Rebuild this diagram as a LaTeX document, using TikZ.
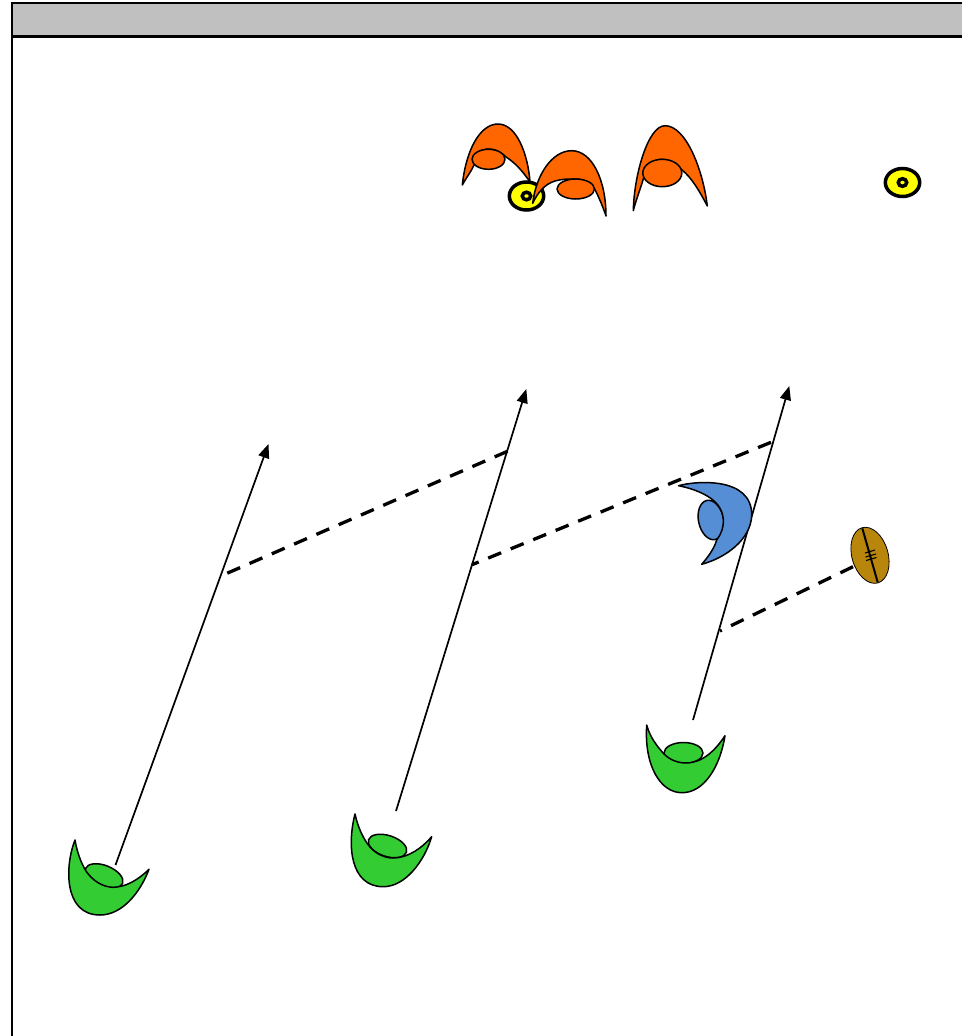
\documentclass[tikz,border=0pt]{standalone}
\usetikzlibrary{arrows.meta}
\definecolor{hdr}{HTML}{C0C0C0}
\definecolor{grn}{HTML}{33CC33}
\definecolor{org}{HTML}{FF6600}
\definecolor{blu}{HTML}{558ED5}
\definecolor{yel}{HTML}{FFFF00}
\definecolor{ballc}{HTML}{B8860B}
\tikzset{
  frameline/.style={line width=2.4pt,black},
  shapeline/.style={line width=1.5pt,black,line join=round},
  run/.style={line width=1.7pt,black,-{Triangle[length=14pt,width=11pt]}},
  pass/.style={line width=3.3pt,black,dash pattern=on 14pt off 10.3pt},
  eye/.style={line width=3.5pt,black,fill=yel},
  ballseam/.style={line width=1.1pt,black}
}
\begin{document}
\begin{tikzpicture}[x=1pt,y=-1pt]
\useasboundingbox (0,0) rectangle (962,1036);
\fill[white] (0,0) rectangle (962,1036);
% frame
\fill[hdr] (12,3) rectangle (962,36.5);
\draw[frameline] (962,3) -- (12,3) -- (12,1036);
\draw[frameline] (12,36.5) -- (962,36.5);
% coordinates
\coordinate (r1s) at (115.5,865); \coordinate (r1e) at (268.5,444);
\coordinate (r2s) at (396,811);   \coordinate (r2e) at (526.3,389);
\coordinate (r3s) at (693,720);   \coordinate (r3e) at (789.3,386);
\coordinate (p1s) at (507.5,451.3); \coordinate (p1e) at (226.5,573.5);
\coordinate (p2s) at (771,442.3);   \coordinate (p2e) at (472,564.7);
\coordinate (p3s) at (853,566.7); \coordinate (p3e) at (720,631);
% yellow markers
\draw[eye] (526.5,196) ellipse (17.2pt and 14pt);
\draw[eye] (526.5,196) ellipse (4.2pt and 3.8pt);
\draw[eye] (902.5,182.5) ellipse (17.2pt and 14pt);
\draw[eye] (902.5,182.5) ellipse (4.2pt and 3.8pt);
% orange
\draw[shapeline,fill=org] (462.3,185) .. controls (466,150) and (480,124) .. (498,124)
  .. controls (517,124) and (528,155) .. (530,182)
  .. controls (522,170) and (514,162) .. (506,157)
  .. controls (500,151) and (494,149) .. (488,149)
  .. controls (480,149) and (475,158) .. (474,165)
  .. controls (471,172) and (466,178) .. (462.3,185) -- cycle;
\draw[shapeline,fill=org] (488.5,159.3) ellipse (16.5pt and 10pt);
\draw[shapeline,fill=org] (532.7,203.3) .. controls (536,175) and (552,150.7) .. (571.7,150.7)
  .. controls (592,150.7) and (606,180) .. (606,216)
  .. controls (603,207) and (598,195) .. (594,188)
  .. controls (590,183) and (584,179) .. (574,179)
  .. controls (568,179) and (562,179) .. (555,181)
  .. controls (545,184) and (538,192) .. (532.7,203.3) -- cycle;
\draw[shapeline,fill=org] (575.7,189) ellipse (18.7pt and 10pt);
\draw[shapeline,fill=org] (633.3,210.7) .. controls (634,175) and (648,125.7) .. (665,125.7)
  .. controls (686,125.7) and (703,170) .. (707.3,206)
  .. controls (700,192) and (692,178) .. (682,170)
  .. controls (675,163) and (668,159.3) .. (662,159.3)
  .. controls (652,159.3) and (646,168) .. (643,180)
  .. controls (640,190) and (636,200) .. (633.3,210.7) -- cycle;
\draw[shapeline,fill=org] (662.3,173) ellipse (19.5pt and 13.7pt);
% connectors
\draw[run] (r1s) -- (r1e);
\draw[run] (r2s) -- (r2e);
\draw[run] (r3s) -- (r3e);
\draw[pass] (p1s) -- (p1e);
\draw[pass] (p2s) -- (p2e);
\draw[pass] (p3s) -- (p3e);
% blue
\draw[shapeline,fill=blu,rotate around={12:(711,520)}] (711,520) ellipse (12.5pt and 20pt);
\draw[shapeline,fill=blu] (678.5,485.7) .. controls (695,481) and (752,476) .. (751.7,515)
  .. controls (751,540) and (725,558) .. (701.7,564.3)
  .. controls (708,557) and (714,549) .. (716.7,540)
  .. controls (726,528) and (727,510) .. (711,498.5)
  .. controls (702,492) and (690,488) .. (678.5,485.7) -- cycle;
% ball
\draw[line width=0.8pt,black,fill=ballc,rotate around={16:(870,555.3)}] (870,555.3) ellipse (18.1pt and 28.7pt);
\draw[line width=2pt,black] (862.3,528.3) -- (877.7,582.3);
\draw[ballseam] (865,553) -- (875,550);
\draw[ballseam] (865.5,557) -- (876,554);
\draw[ballseam] (866,560.5) -- (876.5,557.5);
% green
\draw[shapeline,fill=grn,rotate around={-22:(104,876)}] (104,876) ellipse (20pt and 10.5pt);
\draw[shapeline,fill=grn] (75,840) .. controls (65,865) and (63,915) .. (100,915)
  .. controls (122,915) and (140,893) .. (149,869.3)
  .. controls (138,880) and (126,887) .. (113,887.3)
  .. controls (102,887) and (92,880) .. (86,871)
  .. controls (81,863) and (77,852) .. (75,840) -- cycle;
\draw[shapeline,fill=grn,rotate around={-18:(387.5,846)}] (387.5,846) ellipse (20pt and 10.5pt);
\draw[shapeline,fill=grn] (355,814) .. controls (347,845) and (350,886.7) .. (383.3,886.7)
  .. controls (405,886.7) and (424,862) .. (431.7,836.7)
  .. controls (422,848) and (408,858) .. (393,858)
  .. controls (385,858) and (376,854) .. (370,847)
  .. controls (364,840) and (358,828) .. (355,814) -- cycle;
\draw[shapeline,fill=grn] (683.5,753) ellipse (19.5pt and 10.5pt);
\draw[shapeline,fill=grn] (646.7,725) .. controls (644,765) and (660,792.7) .. (682,792.7)
  .. controls (704,792.7) and (720,767) .. (725,735.7)
  .. controls (715,751) and (702,763) .. (686,763)
  .. controls (678,763) and (670,760) .. (664,754)
  .. controls (656,745) and (650,737) .. (646.7,725) -- cycle;
\end{tikzpicture}
\end{document}
